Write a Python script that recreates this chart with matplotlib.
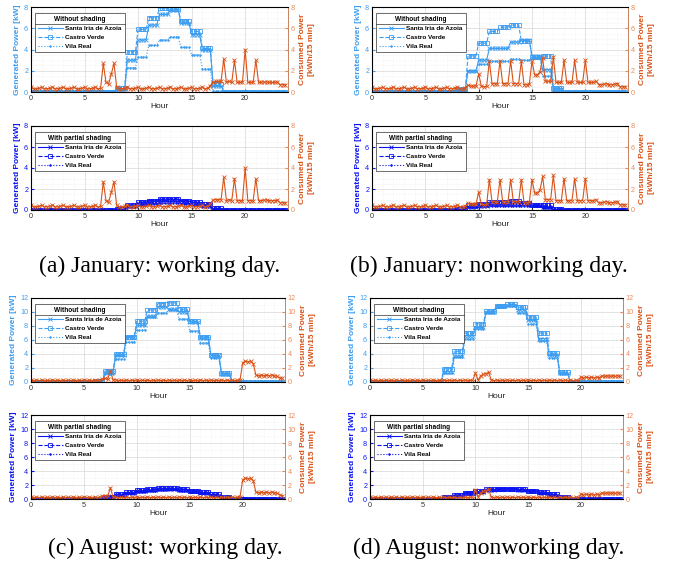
import numpy as np
import matplotlib
matplotlib.use("Agg")
import matplotlib.pyplot as plt
from matplotlib.ticker import MultipleLocator
from matplotlib.lines import Line2D

plt.rcParams['font.family'] = ['Liberation Sans', 'DejaVu Sans']

# ---- data ----
sites = ['Santa Iria de Azoia', 'Castro Verde', 'Vila Real']

# hourly PV generation [kW], one value per hour 0..23 (held for the 4 quarter-hours)
jan_work_free_sia = [0, 0, 0, 0, 0, 0, 0, 0, 0.3, 3.0, 4.9, 6.3, 7.3, 7.7, 6.5, 5.4, 4.0, 0.6, 0, 0, 0, 0, 0, 0]
jan_work_free_cv = [0, 0, 0, 0, 0, 0, 0, 0, 0.4, 3.8, 5.9, 7.0, 7.9, 7.8, 6.7, 5.7, 4.1, 0.8, 0, 0, 0, 0, 0, 0]
jan_work_free_vr = [0, 0, 0, 0, 0, 0, 0, 0, 0.2, 2.3, 3.3, 4.4, 4.9, 5.2, 4.2, 3.5, 2.2, 0.1, 0, 0, 0, 0, 0, 0]
jan_work_shad_sia = [0, 0, 0, 0, 0, 0, 0, 0, 0.05, 0.4, 0.65, 0.85, 0.95, 1.0, 0.85, 0.7, 0.5, 0.1, 0, 0, 0, 0, 0, 0]
jan_work_shad_cv = [0, 0, 0, 0, 0, 0, 0, 0, 0.05, 0.5, 0.75, 0.9, 1.05, 1.05, 0.9, 0.75, 0.55, 0.15, 0, 0, 0, 0, 0, 0]
jan_work_shad_vr = [0, 0, 0, 0, 0, 0, 0, 0, 0.03, 0.3, 0.45, 0.55, 0.65, 0.7, 0.55, 0.45, 0.3, 0.05, 0, 0, 0, 0, 0, 0]

jan_off_free_sia = [0, 0, 0, 0, 0, 0, 0, 0, 0.3, 2.0, 3.0, 4.1, 4.1, 4.7, 4.9, 3.4, 2.1, 0.3, 0, 0, 0, 0, 0, 0]
jan_off_free_cv = [0, 0, 0, 0, 0, 0, 0, 0, 0.3, 3.4, 4.6, 5.7, 6.1, 6.3, 4.8, 3.3, 3.4, 0.4, 0, 0, 0, 0, 0, 0]
jan_off_free_vr = [0, 0, 0, 0, 0, 0, 0, 0, 0.2, 2.0, 2.6, 2.9, 2.9, 3.1, 3.0, 3.2, 1.5, 0.1, 0, 0, 0, 0, 0, 0]
jan_off_shad_sia = [0, 0, 0, 0, 0, 0, 0, 0, 0.05, 0.3, 0.4, 0.55, 0.55, 0.6, 0.65, 0.45, 0.3, 0.05, 0, 0, 0, 0, 0, 0]
jan_off_shad_cv = [0, 0, 0, 0, 0, 0, 0, 0, 0.05, 0.45, 0.6, 0.75, 0.8, 0.85, 0.65, 0.45, 0.45, 0.05, 0, 0, 0, 0, 0, 0]
jan_off_shad_vr = [0, 0, 0, 0, 0, 0, 0, 0, 0.03, 0.25, 0.35, 0.4, 0.4, 0.4, 0.4, 0.4, 0.2, 0.02, 0, 0, 0, 0, 0, 0]

aug_work_free_sia = [0, 0, 0, 0, 0, 0, 0.1, 1.4, 3.8, 6.4, 8.1, 9.4, 10.7, 10.4, 10.0, 8.6, 6.3, 3.8, 1.2, 0.05, 0, 0, 0, 0]
aug_work_free_cv = [0, 0, 0, 0, 0, 0, 0.1, 1.6, 4.0, 6.5, 8.7, 10.3, 11.2, 11.3, 10.4, 8.7, 6.5, 3.8, 1.3, 0.05, 0, 0, 0, 0]
aug_work_free_vr = [0, 0, 0, 0, 0, 0, 0.05, 1.1, 3.3, 5.7, 7.4, 9.3, 9.9, 10.3, 9.0, 7.3, 5.6, 3.4, 1.0, 0.02, 0, 0, 0, 0]
aug_work_shad_sia = [0, 0, 0, 0, 0, 0, 0.02, 0.3, 0.6, 0.85, 1.1, 1.3, 1.45, 1.45, 1.35, 1.15, 0.9, 0.6, 0.25, 0.02, 0, 0, 0, 0]
aug_work_shad_cv = [0, 0, 0, 0, 0, 0, 0.02, 0.35, 0.7, 0.95, 1.25, 1.45, 1.55, 1.55, 1.4, 1.2, 0.95, 0.65, 0.3, 0.03, 0, 0, 0, 0]
aug_work_shad_vr = [0, 0, 0, 0, 0, 0, 0.01, 0.25, 0.5, 0.8, 1.0, 1.2, 1.35, 1.4, 1.2, 1.0, 0.8, 0.5, 0.2, 0.01, 0, 0, 0, 0]

aug_off_free_sia = [0, 0, 0, 0, 0, 0, 0.05, 1.5, 3.7, 6.6, 7.8, 10.0, 10.9, 11.0, 10.3, 8.8, 6.2, 3.8, 1.3, 0.05, 0, 0, 0, 0]
aug_off_free_cv = [0, 0, 0, 0, 0, 0, 0.05, 1.9, 4.4, 7.0, 8.3, 10.1, 10.8, 11.1, 10.7, 9.3, 7.0, 4.1, 1.4, 0.05, 0, 0, 0, 0]
aug_off_free_vr = [0, 0, 0, 0, 0, 0, 0.02, 1.3, 3.6, 6.1, 7.6, 9.9, 10.7, 10.9, 9.9, 8.3, 5.9, 3.5, 1.2, 0.02, 0, 0, 0, 0]
aug_off_shad_sia = [0, 0, 0, 0, 0, 0, 0.02, 0.25, 0.5, 0.8, 1.0, 1.3, 1.45, 1.45, 1.35, 1.15, 0.9, 0.55, 0.25, 0.02, 0, 0, 0, 0]
aug_off_shad_cv = [0, 0, 0, 0, 0, 0, 0.02, 0.3, 0.6, 0.9, 1.1, 1.4, 1.5, 1.5, 1.4, 1.2, 1.0, 0.65, 0.3, 0.02, 0, 0, 0, 0]
aug_off_shad_vr = [0, 0, 0, 0, 0, 0, 0.01, 0.2, 0.5, 0.8, 1.0, 1.3, 1.45, 1.45, 1.3, 1.1, 0.85, 0.5, 0.2, 0.01, 0, 0, 0, 0]

# consumed energy per quarter hour [kWh/15 min], 96 values (one row per 3 hours)
cons_jan_work = [
    0.45, 0.30, 0.32, 0.35,  0.45, 0.30, 0.32, 0.35,  0.45, 0.30, 0.32, 0.35,
    0.45, 0.30, 0.32, 0.35,  0.45, 0.30, 0.32, 0.35,  0.45, 0.30, 0.32, 0.35,
    0.45, 0.30, 0.35, 2.70,  0.90, 0.75, 1.70, 2.70,  0.45, 0.30, 0.32, 0.35,
    0.45, 0.30, 0.32, 0.35,  0.45, 0.30, 0.32, 0.35,  0.45, 0.30, 0.32, 0.35,
    0.45, 0.30, 0.32, 0.35,  0.45, 0.30, 0.32, 0.35,  0.45, 0.30, 0.32, 0.35,
    0.45, 0.30, 0.32, 0.35,  0.45, 0.30, 0.35, 0.60,  0.95, 1.00, 1.00, 1.00,
    3.10, 0.90, 1.00, 0.90,  3.00, 0.90, 0.90, 0.90,  4.00, 0.90, 0.90, 0.90,
    3.00, 0.90, 0.90, 0.95,  0.95, 0.90, 0.90, 0.90,  0.95, 0.70, 0.70, 0.70,
]
cons_jan_off = [
    0.45, 0.30, 0.32, 0.35,  0.45, 0.30, 0.32, 0.35,  0.45, 0.30, 0.32, 0.35,
    0.45, 0.30, 0.32, 0.35,  0.45, 0.30, 0.32, 0.35,  0.45, 0.30, 0.32, 0.35,
    0.45, 0.30, 0.32, 0.35,  0.45, 0.30, 0.32, 0.35,  0.45, 0.30, 0.32, 0.40,
    0.65, 0.55, 0.55, 0.55,  1.70, 0.55, 0.50, 0.55,  2.90, 0.80, 0.80, 0.80,
    2.90, 0.80, 0.80, 0.80,  2.90, 0.80, 0.80, 0.80,  2.90, 0.70, 0.70, 0.75,
    2.90, 1.60, 1.60, 1.90,  3.20, 1.00, 1.00, 1.00,  3.30, 0.90, 0.90, 0.90,
    3.00, 0.90, 0.90, 0.90,  3.00, 0.90, 0.90, 0.90,  3.00, 0.90, 0.90, 0.90,
    1.00, 0.70, 0.70, 0.75,  0.80, 0.70, 0.70, 0.75,  0.80, 0.50, 0.50, 0.50,
]
cons_aug_work = [
    0.30, 0.20, 0.25, 0.20,  0.30, 0.20, 0.25, 0.20,  0.30, 0.20, 0.25, 0.20,
    0.30, 0.20, 0.25, 0.20,  0.30, 0.20, 0.25, 0.20,  0.30, 0.20, 0.25, 0.20,
    0.30, 0.20, 0.25, 0.45,  0.50, 0.40, 1.60, 0.30,  0.30, 0.20, 0.25, 0.20,
    0.30, 0.20, 0.25, 0.20,  0.30, 0.20, 0.25, 0.20,  0.30, 0.20, 0.25, 0.20,
    0.30, 0.20, 0.25, 0.20,  0.30, 0.20, 0.25, 0.20,  0.30, 0.20, 0.25, 0.20,
    0.30, 0.20, 0.25, 0.20,  0.30, 0.20, 0.25, 0.20,  0.30, 0.20, 0.25, 0.20,
    0.30, 0.20, 0.25, 0.20,  0.30, 0.20, 0.25, 0.30,  2.70, 3.00, 2.90, 3.00,
    2.60, 1.00, 0.90, 1.00,  0.90, 1.00, 0.90, 1.00,  0.90, 0.80, 0.60, 0.50,
]
cons_aug_off = [
    0.30, 0.20, 0.25, 0.20,  0.30, 0.20, 0.25, 0.20,  0.30, 0.20, 0.25, 0.20,
    0.30, 0.20, 0.25, 0.20,  0.30, 0.20, 0.25, 0.20,  0.30, 0.20, 0.25, 0.20,
    0.30, 0.20, 0.25, 0.20,  0.30, 0.20, 0.25, 0.20,  0.30, 0.20, 0.25, 0.20,
    0.30, 0.20, 0.25, 0.20,  1.30, 0.30, 0.90, 1.10,  1.20, 1.40, 0.30, 0.20,
    0.30, 0.20, 0.25, 0.20,  0.30, 0.20, 0.25, 0.20,  0.30, 0.20, 0.25, 0.20,
    0.30, 0.20, 0.25, 0.20,  0.30, 0.20, 0.25, 0.20,  0.30, 0.20, 0.25, 0.20,
    0.30, 0.20, 0.25, 0.20,  0.30, 0.20, 0.25, 0.20,  0.70, 0.60, 0.70, 0.60,
    0.70, 0.60, 0.70, 0.60,  0.90, 0.80, 0.90, 0.80,  0.90, 0.80, 0.90, 0.80,
]

captions = ['(a) January: working day.', '(b) January: nonworking day.',
            '(c) August: working day.', '(d) August: nonworking day.']

BLUE_LIGHT = '#3d9df0'
BLUE_DARK = '#0a14f0'
ORANGE = '#d95319'
ORANGE_TICK = '#e8895a'

t = np.arange(96) / 4  # quarter-hour time stamps


def panel(fig, rect, gen, cons, ymax, shaded):
    ax = fig.add_axes(rect)
    col = BLUE_DARK if shaded else BLUE_LIGHT
    styles = [dict(ls='-', marker='x'), dict(ls='--', marker='s', mfc='none'), dict(ls=':', marker='.')]
    handles = []
    for g, name, st in zip(gen, sites, styles):
        h, = ax.plot(t, np.repeat(g, 4), color=col, lw=0.8, ms=2.3, mew=0.6, label=name, **st)
        handles.append(h)
    ax.set_xlim(0, 24)
    ax.set_ylim(0, ymax)
    ax.xaxis.set_major_locator(MultipleLocator(5))
    ax.xaxis.set_minor_locator(MultipleLocator(1))
    ax.yaxis.set_major_locator(MultipleLocator(2))
    ax.yaxis.set_minor_locator(MultipleLocator(0.5 if ymax == 8 else 1))
    ax.grid(True, which='major', color='#d8d8d8', lw=0.5)
    ax.grid(True, which='minor', color='#e8e8e8', lw=0.4, ls=':')
    ax.set_axisbelow(True)
    ax.tick_params(which='both', direction='in', labelsize=5.2, length=2, pad=2)
    ax.tick_params(which='minor', length=0)
    ax.tick_params(axis='y', colors=col)
    ax.tick_params(axis='x', colors='#333333')
    ax.set_ylabel('Generated Power [kW]', color=col, fontsize=6, fontweight='bold', labelpad=2)
    ax.set_xlabel('Hour', fontsize=6, labelpad=1, color='#222222')
    for s in ax.spines.values():
        s.set_linewidth(0.5)
        s.set_color('#444444')
    ax.spines['left'].set_color(col)

    ax2 = ax.twinx()
    ax2.plot(t, cons, '-x', color=ORANGE, lw=0.8, ms=2.3, mew=0.6)
    ax2.set_ylim(0, ymax)
    ax2.yaxis.set_major_locator(MultipleLocator(2))
    ax2.tick_params(direction='in', labelsize=5.2, length=2, pad=2, colors=ORANGE_TICK)
    ax2.spines['right'].set_color(ORANGE_TICK)
    ax2.spines['right'].set_linewidth(0.5)
    ax2.set_ylabel('Consumed Power\n[kWh/15 min]', color=ORANGE, fontsize=6,
                   fontweight='bold', labelpad=3, linespacing=1.3)
    leg = ax2.legend(handles, sites, title='With partial shading' if shaded else 'Without shading',
                     loc='upper left', bbox_to_anchor=(0.016, 0.93), prop={'size': 4.6, 'weight': 'bold'},
                     title_fontproperties={'weight': 'bold', 'size': 4.7},
                     fancybox=False, edgecolor='#333333', framealpha=1, handlelength=3.9,
                     handletextpad=0.4, labelspacing=0.5, borderpad=0.45, borderaxespad=0)
    leg.get_frame().set_linewidth(0.5)
    return leg


fig = plt.figure(figsize=(6.73, 5.70), dpi=100)
W, H = 673, 570

cases = [
    ((jan_work_free_sia, jan_work_free_cv, jan_work_free_vr), (jan_work_shad_sia, jan_work_shad_cv, jan_work_shad_vr), cons_jan_work, 8),
    ((jan_off_free_sia, jan_off_free_cv, jan_off_free_vr), (jan_off_shad_sia, jan_off_shad_cv, jan_off_shad_vr), cons_jan_off, 8),
    ((aug_work_free_sia, aug_work_free_cv, aug_work_free_vr), (aug_work_shad_sia, aug_work_shad_cv, aug_work_shad_vr), cons_aug_work, 12),
    ((aug_off_free_sia, aug_off_free_cv, aug_off_free_vr), (aug_off_shad_sia, aug_off_shad_cv, aug_off_shad_vr), cons_aug_off, 12),
]
# pixel boxes: (left, right, top-of-upper, bottom-of-upper, top-of-lower, bottom-of-lower, caption x, caption y)
boxes = [
    (31, 288, 7, 92, 126, 210, 160, 266),
    (372, 628, 7, 92, 126, 210, 489, 266),
    (31, 285, 298, 382, 415, 499, 165, 548),
    (370, 623, 298, 382, 415, 499, 489, 548),
]

legends = []
for (free, shad, cons, ymax), (l, r, t1, b1, t2, b2, cx, cy), cap in zip(cases, boxes, captions):
    legends.append(panel(fig, [l / W, 1 - b1 / H, (r - l) / W, (b1 - t1) / H], free, cons, ymax, False))
    legends.append(panel(fig, [l / W, 1 - b2 / H, (r - l) / W, (b2 - t2) / H], shad, cons, ymax, True))
    fig.text(cx / W, 1 - cy / H, cap, ha='center', va='center',
             fontsize=17, family=['Liberation Serif', 'DejaVu Serif'])

# separator line under each legend title
fig.canvas.draw()
for leg in legends:
    fb = leg.get_frame().get_window_extent()
    tb = leg.get_title().get_window_extent()
    y = (tb.y0 - 1) / fig.bbox.height
    fig.add_artist(Line2D([fb.x0 / fig.bbox.width, fb.x1 / fig.bbox.width], [y, y],
                          color='#333333', lw=0.5, zorder=10))

fig.savefig('out.png', dpi=100)
